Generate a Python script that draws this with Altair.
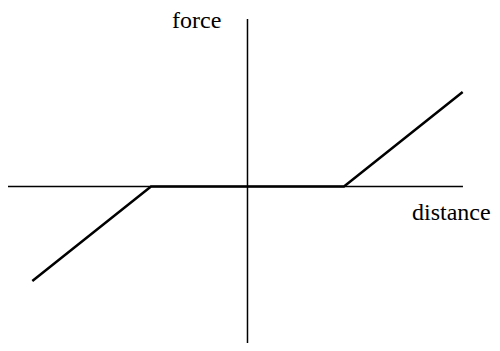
import altair as alt
import pandas as pd

# force-distance curve (data units)
distance = [-2.23, -1.0, 1.0, 2.23]
force = [-0.99, 0.0, 0.0, 0.99]

# axis line extents (data units)
x_axis_extent = [-2.482, 2.233]
y_axis_extent = [-1.75, 1.754]

labels = ["force", "distance"]

W, H = 484, 335
xs = alt.Scale(domain=[-2.482, 2.534], nice=False, zero=False)
ys = alt.Scale(domain=[-1.639, 1.869], nice=False, zero=False)

curve_df = pd.DataFrame({"distance": distance, "force": force, "order": range(len(distance))})
haxis_df = pd.DataFrame({"x": [x_axis_extent[0]], "x2": [x_axis_extent[1]], "y": [0.0]})
vaxis_df = pd.DataFrame({"y": [y_axis_extent[0]], "y2": [y_axis_extent[1]], "x": [0.0]})

hax = alt.Chart(haxis_df).mark_rule(color="black", strokeWidth=1.5).encode(
    x=alt.X("x:Q", scale=xs, axis=None), x2="x2:Q",
    y=alt.Y("y:Q", scale=ys, axis=None))
vax = alt.Chart(vaxis_df).mark_rule(color="black", strokeWidth=1.5, clip=True).encode(
    x=alt.X("x:Q", scale=xs, axis=None),
    y=alt.Y("y:Q", scale=ys, axis=None), y2="y2:Q")
curve = alt.Chart(curve_df).mark_line(color="black", strokeWidth=2.5).encode(
    x=alt.X("distance:Q", scale=xs, axis=None),
    y=alt.Y("force:Q", scale=ys, axis=None),
    order="order:Q")

t_force = alt.Chart(pd.DataFrame({"t": [labels[0]]})).mark_text(
    font="Liberation Serif", fontSize=24, align="left", baseline="alphabetic", color="black"
).encode(text="t:N", x=alt.value(164), y=alt.value(20))
t_dist = alt.Chart(pd.DataFrame({"t": [labels[1]]})).mark_text(
    font="Liberation Serif", fontSize=24, align="left", baseline="alphabetic", color="black"
).encode(text="t:N", x=alt.value(404), y=alt.value(212))

chart = alt.layer(hax, vax, curve, t_force, t_dist).properties(
    width=W, height=H, padding=0, autosize=alt.AutoSizeParams(type="none"),
    background="white"
).configure_view(stroke=None)

chart.save("out.html", embed_options={"renderer": "svg", "actions": False})
